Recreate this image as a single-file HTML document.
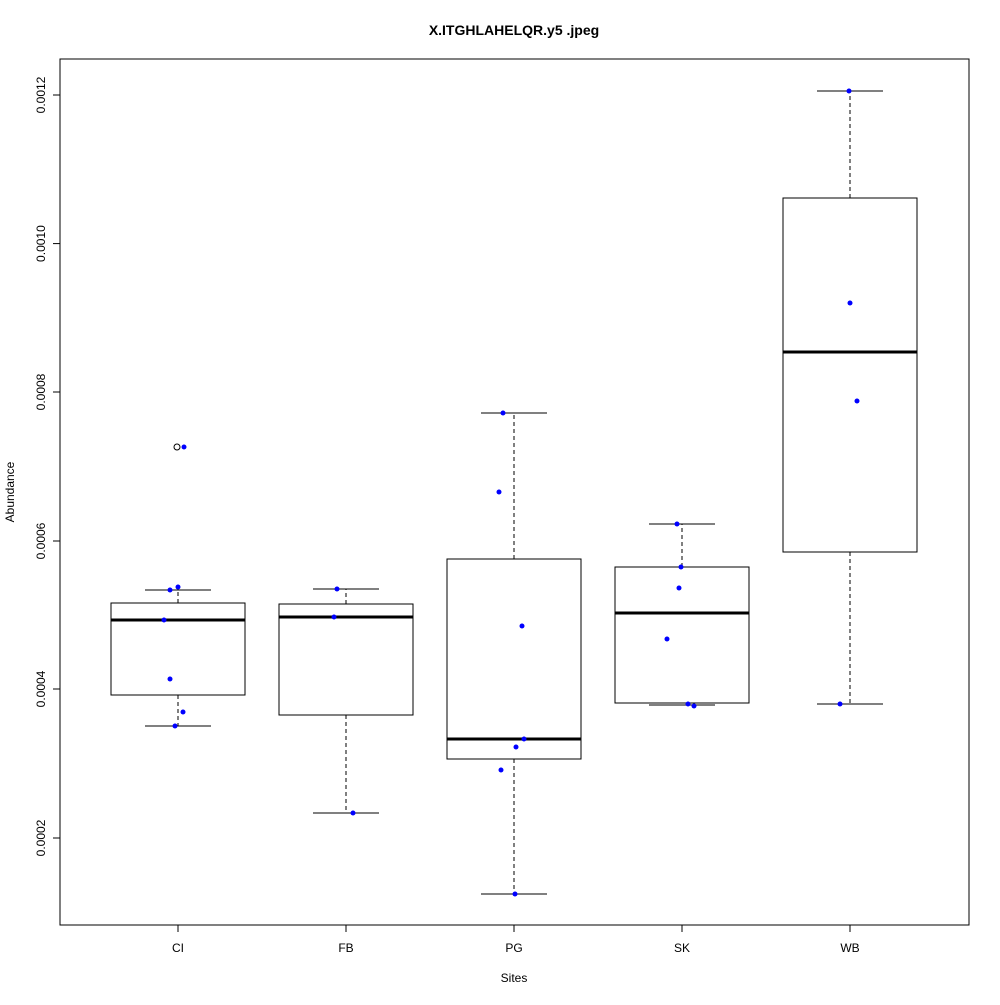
<!DOCTYPE html>
<html><head><style>body{margin:0;background:#fff}</style></head><body>
<svg width="1000" height="1000" xmlns="http://www.w3.org/2000/svg" font-family="Liberation Sans, sans-serif">
<rect width="1000" height="1000" fill="#fff"/>
<text x="514" y="35" text-anchor="middle" font-weight="bold" font-size="14">X.ITGHLAHELQR.y5 .jpeg</text>
<rect x="60" y="59" width="909" height="866" fill="none" stroke="#000"/>
<g stroke="#000">
<line x1="60" y1="95" x2="60" y2="838"/>
<line x1="53" y1="95" x2="60" y2="95"/><line x1="53" y1="243.6" x2="60" y2="243.6"/><line x1="53" y1="392" x2="60" y2="392"/><line x1="53" y1="541" x2="60" y2="541"/><line x1="53" y1="689" x2="60" y2="689"/><line x1="53" y1="838" x2="60" y2="838"/>
<line x1="178" y1="925" x2="850" y2="925"/>
<line x1="178" y1="925" x2="178" y2="932"/><line x1="346" y1="925" x2="346" y2="932"/><line x1="514" y1="925" x2="514" y2="932"/><line x1="682" y1="925" x2="682" y2="932"/><line x1="850" y1="925" x2="850" y2="932"/>
</g>
<g font-size="12" text-anchor="middle">
<text transform="translate(45,95) rotate(-90)">0.0012</text>
<text transform="translate(45,243.6) rotate(-90)">0.0010</text>
<text transform="translate(45,392) rotate(-90)">0.0008</text>
<text transform="translate(45,541) rotate(-90)">0.0006</text>
<text transform="translate(45,689) rotate(-90)">0.0004</text>
<text transform="translate(45,838) rotate(-90)">0.0002</text>
<text x="178" y="952">CI</text><text x="346" y="952">FB</text><text x="514" y="952">PG</text><text x="682" y="952">SK</text><text x="850" y="952">WB</text>
<text x="514" y="982">Sites</text>
<text transform="translate(14,492) rotate(-90)">Abundance</text>
</g>
<g stroke="#000" fill="none">
<line x1="178" y1="695" x2="178" y2="726" stroke-dasharray="4,3"/><line x1="178" y1="603" x2="178" y2="590" stroke-dasharray="4,3"/>
<line x1="145" y1="726" x2="211" y2="726"/><line x1="145" y1="590" x2="211" y2="590"/>
<rect x="111" y="603" width="134" height="92"/><line x1="111" y1="620" x2="245" y2="620" stroke-width="3"/>
<circle cx="177" cy="447" r="3"/>
<line x1="346" y1="715" x2="346" y2="813" stroke-dasharray="4,3"/><line x1="346" y1="604" x2="346" y2="589" stroke-dasharray="4,3"/>
<line x1="313" y1="813" x2="379" y2="813"/><line x1="313" y1="589" x2="379" y2="589"/>
<rect x="279" y="604" width="134" height="111"/><line x1="279" y1="617" x2="413" y2="617" stroke-width="3"/>
<line x1="514" y1="759" x2="514" y2="894" stroke-dasharray="4,3"/><line x1="514" y1="559" x2="514" y2="413" stroke-dasharray="4,3"/>
<line x1="481" y1="894" x2="547" y2="894"/><line x1="481" y1="413" x2="547" y2="413"/>
<rect x="447" y="559" width="134" height="200"/><line x1="447" y1="739" x2="581" y2="739" stroke-width="3"/>
<line x1="682" y1="567" x2="682" y2="524" stroke-dasharray="4,3"/>
<line x1="649" y1="705" x2="715" y2="705"/><line x1="649" y1="524" x2="715" y2="524"/>
<rect x="615" y="567" width="134" height="136"/><line x1="615" y1="613" x2="749" y2="613" stroke-width="3"/>
<line x1="850" y1="552" x2="850" y2="704" stroke-dasharray="4,3"/><line x1="850" y1="198" x2="850" y2="91" stroke-dasharray="4,3"/>
<line x1="817" y1="704" x2="883" y2="704"/><line x1="817" y1="91" x2="883" y2="91"/>
<rect x="783" y="198" width="134" height="354"/><line x1="783" y1="352" x2="917" y2="352" stroke-width="3"/>
</g>
<g fill="#0000ff">
<circle cx="170" cy="590" r="2.5"/><circle cx="178" cy="587" r="2.5"/><circle cx="164" cy="620" r="2.5"/><circle cx="170" cy="679" r="2.5"/><circle cx="183" cy="712" r="2.5"/><circle cx="175" cy="726" r="2.5"/><circle cx="184" cy="447" r="2.5"/>
<circle cx="337" cy="589" r="2.5"/><circle cx="334" cy="617" r="2.5"/><circle cx="353" cy="813" r="2.5"/>
<circle cx="503" cy="413" r="2.5"/><circle cx="499" cy="492" r="2.5"/><circle cx="522" cy="626" r="2.5"/><circle cx="524" cy="739" r="2.5"/><circle cx="516" cy="747" r="2.5"/><circle cx="501" cy="770" r="2.5"/><circle cx="515" cy="894" r="2.5"/>
<circle cx="677" cy="524" r="2.5"/><circle cx="681" cy="567" r="2.5"/><circle cx="679" cy="588" r="2.5"/><circle cx="667" cy="639" r="2.5"/><circle cx="688" cy="704" r="2.5"/><circle cx="694" cy="706" r="2.5"/>
<circle cx="849" cy="91" r="2.5"/><circle cx="850" cy="303" r="2.5"/><circle cx="857" cy="401" r="2.5"/><circle cx="840" cy="704" r="2.5"/>
</g>
</svg>
</body></html>
